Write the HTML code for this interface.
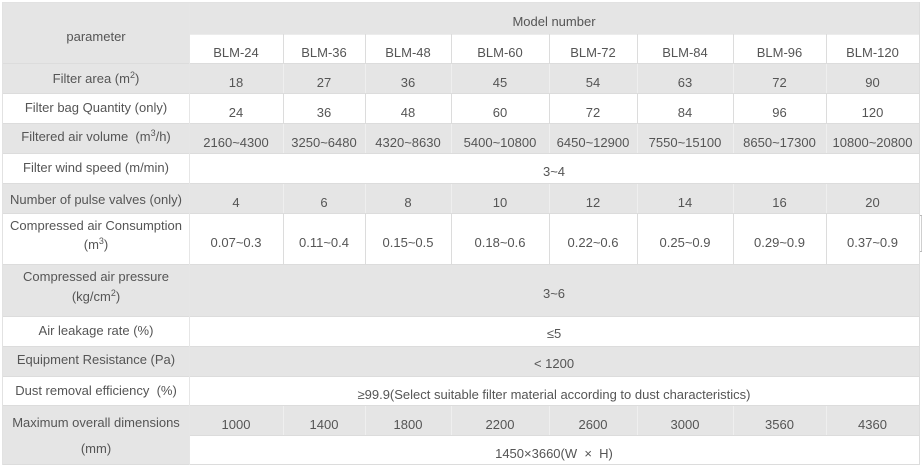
<!DOCTYPE html>
<html>
<head>
<meta charset="utf-8">
<style>
  html,body{margin:0;padding:0;background:#fff;}
  #w{position:relative;width:923px;height:466px;overflow:hidden;background:#fff;}
  .bg{position:absolute;background:#e5e5e5;}
  .hl{position:absolute;height:1px;background:#dcdcdc;}
  .vl{position:absolute;width:1px;}
  .vg{background:#efefef;}
  .vw{background:#dcdcdc;}
  .t{position:absolute;text-align:center;font-family:"Liberation Sans",sans-serif;font-size:13px;line-height:16px;color:#555;white-space:nowrap;}
  sup{font-size:9px;vertical-align:5px;line-height:0;}
</style>
</head>
<body>
<div id="w">
  <div class="bg" style="left:3px;top:3px;width:916px;height:31px;"></div>
  <div class="bg" style="left:3px;top:34px;width:186px;height:29px;"></div>
  <div class="bg" style="left:3px;top:63px;width:916px;height:30px;"></div>
  <div class="bg" style="left:3px;top:123px;width:916px;height:30px;"></div>
  <div class="bg" style="left:3px;top:183px;width:916px;height:30px;"></div>
  <div class="bg" style="left:3px;top:264px;width:916px;height:52px;"></div>
  <div class="bg" style="left:3px;top:346px;width:916px;height:30px;"></div>
  <div class="bg" style="left:3px;top:405px;width:916px;height:30px;"></div>
  <div class="bg" style="left:3px;top:435px;width:186px;height:30px;"></div>

  <div class="hl" style="left:2px;top:2px;width:918px;background:#e2e2e2;"></div>
  <div class="hl" style="left:189px;top:34px;width:730px;background:#ececec;"></div>
  <div class="hl" style="left:3px;top:63px;width:916px;"></div>
  <div class="hl" style="left:3px;top:93px;width:916px;"></div>
  <div class="hl" style="left:3px;top:123px;width:916px;"></div>
  <div class="hl" style="left:3px;top:153px;width:916px;"></div>
  <div class="hl" style="left:3px;top:183px;width:916px;"></div>
  <div class="hl" style="left:3px;top:213px;width:916px;"></div>
  <div class="hl" style="left:3px;top:264px;width:916px;"></div>
  <div class="hl" style="left:3px;top:316px;width:916px;"></div>
  <div class="hl" style="left:3px;top:346px;width:916px;"></div>
  <div class="hl" style="left:3px;top:376px;width:916px;"></div>
  <div class="hl" style="left:3px;top:405px;width:916px;"></div>
  <div class="hl" style="left:189px;top:435px;width:730px;"></div>
  <div class="hl" style="left:2px;top:464px;width:918px;"></div>

  <div class="vl vw" style="left:2px;top:2px;height:463px;background:#e2e2e2;"></div>
  <div class="vl vw" style="left:919px;top:2px;height:463px;"></div>
  <div class="vl vw" style="left:189px;top:3px;height:462px;background:#e6e6e6;"></div>

  <div class="vl vw" style="left:283px;top:34px;height:29px;"></div>
  <div class="vl vw" style="left:365px;top:34px;height:29px;"></div>
  <div class="vl vw" style="left:451px;top:34px;height:29px;"></div>
  <div class="vl vw" style="left:549px;top:34px;height:29px;"></div>
  <div class="vl vw" style="left:637px;top:34px;height:29px;"></div>
  <div class="vl vw" style="left:733px;top:34px;height:29px;"></div>
  <div class="vl vw" style="left:826px;top:34px;height:29px;"></div>
  <div class="vl vg" style="left:283px;top:64px;height:29px;"></div>
  <div class="vl vg" style="left:365px;top:64px;height:29px;"></div>
  <div class="vl vg" style="left:451px;top:64px;height:29px;"></div>
  <div class="vl vg" style="left:549px;top:64px;height:29px;"></div>
  <div class="vl vg" style="left:637px;top:64px;height:29px;"></div>
  <div class="vl vg" style="left:733px;top:64px;height:29px;"></div>
  <div class="vl vg" style="left:826px;top:64px;height:29px;"></div>
  <div class="vl vw" style="left:283px;top:94px;height:29px;"></div>
  <div class="vl vw" style="left:365px;top:94px;height:29px;"></div>
  <div class="vl vw" style="left:451px;top:94px;height:29px;"></div>
  <div class="vl vw" style="left:549px;top:94px;height:29px;"></div>
  <div class="vl vw" style="left:637px;top:94px;height:29px;"></div>
  <div class="vl vw" style="left:733px;top:94px;height:29px;"></div>
  <div class="vl vw" style="left:826px;top:94px;height:29px;"></div>
  <div class="vl vg" style="left:283px;top:124px;height:29px;"></div>
  <div class="vl vg" style="left:365px;top:124px;height:29px;"></div>
  <div class="vl vg" style="left:451px;top:124px;height:29px;"></div>
  <div class="vl vg" style="left:549px;top:124px;height:29px;"></div>
  <div class="vl vg" style="left:637px;top:124px;height:29px;"></div>
  <div class="vl vg" style="left:733px;top:124px;height:29px;"></div>
  <div class="vl vg" style="left:826px;top:124px;height:29px;"></div>
  <div class="vl vg" style="left:283px;top:184px;height:29px;"></div>
  <div class="vl vg" style="left:365px;top:184px;height:29px;"></div>
  <div class="vl vg" style="left:451px;top:184px;height:29px;"></div>
  <div class="vl vg" style="left:549px;top:184px;height:29px;"></div>
  <div class="vl vg" style="left:637px;top:184px;height:29px;"></div>
  <div class="vl vg" style="left:733px;top:184px;height:29px;"></div>
  <div class="vl vg" style="left:826px;top:184px;height:29px;"></div>
  <div class="vl vw" style="left:283px;top:214px;height:50px;"></div>
  <div class="vl vw" style="left:365px;top:214px;height:50px;"></div>
  <div class="vl vw" style="left:451px;top:214px;height:50px;"></div>
  <div class="vl vw" style="left:549px;top:214px;height:50px;"></div>
  <div class="vl vw" style="left:637px;top:214px;height:50px;"></div>
  <div class="vl vw" style="left:733px;top:214px;height:50px;"></div>
  <div class="vl vw" style="left:826px;top:214px;height:50px;"></div>
  <div class="vl vg" style="left:283px;top:406px;height:29px;"></div>
  <div class="vl vg" style="left:365px;top:406px;height:29px;"></div>
  <div class="vl vg" style="left:451px;top:406px;height:29px;"></div>
  <div class="vl vg" style="left:549px;top:406px;height:29px;"></div>
  <div class="vl vg" style="left:637px;top:406px;height:29px;"></div>
  <div class="vl vg" style="left:733px;top:406px;height:29px;"></div>
  <div class="vl vg" style="left:826px;top:406px;height:29px;"></div>

  <div class="vl" style="left:921px;top:215px;height:37px;background:#cfcfcf;"></div>
  <div style="position:absolute;left:920px;top:215px;width:2px;height:1px;background:#b8b8b8;"></div>
  <div style="position:absolute;left:920px;top:251px;width:2px;height:1px;background:#b8b8b8;"></div>

  <div class="t" style="left:3px;width:186px;top:29px;">parameter</div>
  <div class="t" style="left:3px;width:186px;top:71px;">Filter area (m<sup>2</sup>)</div>
  <div class="t" style="left:3px;width:186px;top:100px;">Filter bag Quantity (only)</div>
  <div class="t" style="left:3px;width:186px;top:129px;">Filtered air volume&nbsp; (m<sup>3</sup>/h)</div>
  <div class="t" style="left:3px;width:186px;top:160px;">Filter wind speed (m/min)</div>
  <div class="t" style="left:3px;width:186px;top:192px;">Number of pulse valves (only)</div>
  <div class="t" style="left:3px;width:186px;top:218px;">Compressed air Consumption</div>
  <div class="t" style="left:3px;width:186px;top:237px;">(m<sup>3</sup>)</div>
  <div class="t" style="left:3px;width:186px;top:269px;">Compressed air pressure</div>
  <div class="t" style="left:3px;width:186px;top:289px;">(kg/cm<sup>2</sup>)</div>
  <div class="t" style="left:3px;width:186px;top:323px;">Air leakage rate (%)</div>
  <div class="t" style="left:3px;width:186px;top:352px;">Equipment Resistance (Pa)</div>
  <div class="t" style="left:3px;width:186px;top:383px;">Dust removal efficiency&nbsp; (%)</div>
  <div class="t" style="left:3px;width:186px;top:415px;">Maximum overall dimensions</div>
  <div class="t" style="left:3px;width:186px;top:441px;">(mm)</div>

  <div class="t" style="left:189px;width:730px;top:14px;">Model number</div>
  <div class="t" style="left:189px;width:94px;top:45px;">BLM-24</div>
  <div class="t" style="left:283px;width:82px;top:45px;">BLM-36</div>
  <div class="t" style="left:365px;width:86px;top:45px;">BLM-48</div>
  <div class="t" style="left:451px;width:98px;top:45px;">BLM-60</div>
  <div class="t" style="left:549px;width:88px;top:45px;">BLM-72</div>
  <div class="t" style="left:637px;width:96px;top:45px;">BLM-84</div>
  <div class="t" style="left:733px;width:93px;top:45px;">BLM-96</div>
  <div class="t" style="left:826px;width:93px;top:45px;">BLM-120</div>

  <div class="t" style="left:189px;width:94px;top:75px;">18</div>
  <div class="t" style="left:283px;width:82px;top:75px;">27</div>
  <div class="t" style="left:365px;width:86px;top:75px;">36</div>
  <div class="t" style="left:451px;width:98px;top:75px;">45</div>
  <div class="t" style="left:549px;width:88px;top:75px;">54</div>
  <div class="t" style="left:637px;width:96px;top:75px;">63</div>
  <div class="t" style="left:733px;width:93px;top:75px;">72</div>
  <div class="t" style="left:826px;width:93px;top:75px;">90</div>

  <div class="t" style="left:189px;width:94px;top:105px;">24</div>
  <div class="t" style="left:283px;width:82px;top:105px;">36</div>
  <div class="t" style="left:365px;width:86px;top:105px;">48</div>
  <div class="t" style="left:451px;width:98px;top:105px;">60</div>
  <div class="t" style="left:549px;width:88px;top:105px;">72</div>
  <div class="t" style="left:637px;width:96px;top:105px;">84</div>
  <div class="t" style="left:733px;width:93px;top:105px;">96</div>
  <div class="t" style="left:826px;width:93px;top:105px;">120</div>

  <div class="t" style="left:189px;width:94px;top:135px;">2160~4300</div>
  <div class="t" style="left:283px;width:82px;top:135px;">3250~6480</div>
  <div class="t" style="left:365px;width:86px;top:135px;">4320~8630</div>
  <div class="t" style="left:451px;width:98px;top:135px;">5400~10800</div>
  <div class="t" style="left:549px;width:88px;top:135px;">6450~12900</div>
  <div class="t" style="left:637px;width:96px;top:135px;">7550~15100</div>
  <div class="t" style="left:733px;width:93px;top:135px;">8650~17300</div>
  <div class="t" style="left:826px;width:93px;top:135px;">10800~20800</div>

  <div class="t" style="left:189px;width:730px;top:164px;">3~4</div>

  <div class="t" style="left:189px;width:94px;top:195px;">4</div>
  <div class="t" style="left:283px;width:82px;top:195px;">6</div>
  <div class="t" style="left:365px;width:86px;top:195px;">8</div>
  <div class="t" style="left:451px;width:98px;top:195px;">10</div>
  <div class="t" style="left:549px;width:88px;top:195px;">12</div>
  <div class="t" style="left:637px;width:96px;top:195px;">14</div>
  <div class="t" style="left:733px;width:93px;top:195px;">16</div>
  <div class="t" style="left:826px;width:93px;top:195px;">20</div>

  <div class="t" style="left:189px;width:94px;top:235px;">0.07~0.3</div>
  <div class="t" style="left:283px;width:82px;top:235px;">0.11~0.4</div>
  <div class="t" style="left:365px;width:86px;top:235px;">0.15~0.5</div>
  <div class="t" style="left:451px;width:98px;top:235px;">0.18~0.6</div>
  <div class="t" style="left:549px;width:88px;top:235px;">0.22~0.6</div>
  <div class="t" style="left:637px;width:96px;top:235px;">0.25~0.9</div>
  <div class="t" style="left:733px;width:93px;top:235px;">0.29~0.9</div>
  <div class="t" style="left:826px;width:93px;top:235px;">0.37~0.9</div>

  <div class="t" style="left:189px;width:730px;top:286px;">3~6</div>
  <div class="t" style="left:189px;width:730px;top:326px;">≤5</div>
  <div class="t" style="left:189px;width:730px;top:356px;">&lt; 1200</div>
  <div class="t" style="left:189px;width:730px;top:387px;">≥99.9(Select suitable filter material according to dust characteristics)</div>

  <div class="t" style="left:189px;width:94px;top:417px;">1000</div>
  <div class="t" style="left:283px;width:82px;top:417px;">1400</div>
  <div class="t" style="left:365px;width:86px;top:417px;">1800</div>
  <div class="t" style="left:451px;width:98px;top:417px;">2200</div>
  <div class="t" style="left:549px;width:88px;top:417px;">2600</div>
  <div class="t" style="left:637px;width:96px;top:417px;">3000</div>
  <div class="t" style="left:733px;width:93px;top:417px;">3560</div>
  <div class="t" style="left:826px;width:93px;top:417px;">4360</div>

  <div class="t" style="left:189px;width:730px;top:446px;">1450×3660(W &nbsp;×&nbsp; H)</div>
</div>
</body>
</html>
